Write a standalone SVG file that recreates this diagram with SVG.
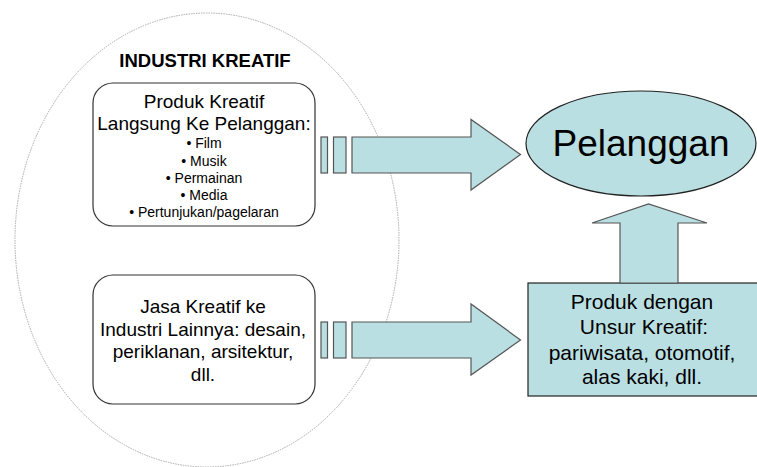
<svg xmlns="http://www.w3.org/2000/svg" width="757" height="467" viewBox="0 0 757 467">
<style>
text{font-family:"Liberation Sans",Arial,sans-serif;fill:#000;text-anchor:middle}
.box{fill:#fff;stroke:#333;stroke-width:1.2}
.teal{fill:#BADFE2;stroke:#555;stroke-width:1.2}
.tealdark{fill:#BADFE2;stroke:#222;stroke-width:1.2}
</style>
<rect width="757" height="467" fill="#fff"/>
<g id="industri-kreatif">
<ellipse cx="207" cy="240" rx="192" ry="227" fill="none" stroke="#aaa" stroke-width="1" stroke-dasharray="1.5,1"/>
<text x="205" y="67" font-size="18.5" font-weight="bold">INDUSTRI KREATIF</text>
</g>
<g id="produk-kreatif">
<rect class="box" x="93" y="83" width="222" height="143" rx="20"/>
<text x="204" y="108" font-size="19">Produk Kreatif</text>
<text x="204" y="130" font-size="19">Langsung Ke Pelanggan:</text>
<text x="204" y="148" font-size="14">• Film</text>
<text x="204" y="166" font-size="14">• Musik</text>
<text x="204" y="183" font-size="14">• Permainan</text>
<text x="204" y="200" font-size="14">• Media</text>
<text x="204" y="217" font-size="14">• Pertunjukan/pagelaran</text>
</g>
<g id="jasa-kreatif">
<rect class="box" x="93" y="275" width="222" height="129" rx="20"/>
<text x="203" y="313" font-size="19">Jasa Kreatif ke</text>
<text x="203" y="336" font-size="19">Industri Lainnya: desain,</text>
<text x="203" y="358" font-size="19">periklanan, arsitektur,</text>
<text x="203" y="381" font-size="19">dll.</text>
</g>
<g id="pelanggan">
<ellipse class="tealdark" cx="641" cy="143.5" rx="115" ry="52.5"/>
<text x="641" y="156" font-size="37">Pelanggan</text>
</g>
<g id="produk-unsur">
<rect class="tealdark" x="528" y="283" width="235" height="113"/>
<text x="642" y="309" font-size="21">Produk dengan</text>
<text x="644" y="334" font-size="21">Unsur Kreatif:</text>
<text x="642" y="360" font-size="21">pariwisata, otomotif,</text>
<text x="642" y="384" font-size="21">alas kaki, dll.</text>
</g>
<g id="connectors">
<rect class="teal" x="321" y="137" width="6.5" height="36"/>
<rect class="teal" x="333.5" y="137" width="12.5" height="36"/>
<polygon class="teal" points="352,137 471,137 471,119.5 520.5,154.5 471,190 471,173 352,173"/>
<rect class="teal" x="321" y="322" width="6.5" height="36"/>
<rect class="teal" x="333.5" y="322" width="12.5" height="36"/>
<polygon class="teal" points="352,322 471,322 471,304 520.5,340 471,375 471,358 352,358"/>
<polygon class="teal" points="620,283 620,223 592,223 648.5,204 707,223 678,223 678,283"/>
</g>
</svg>
